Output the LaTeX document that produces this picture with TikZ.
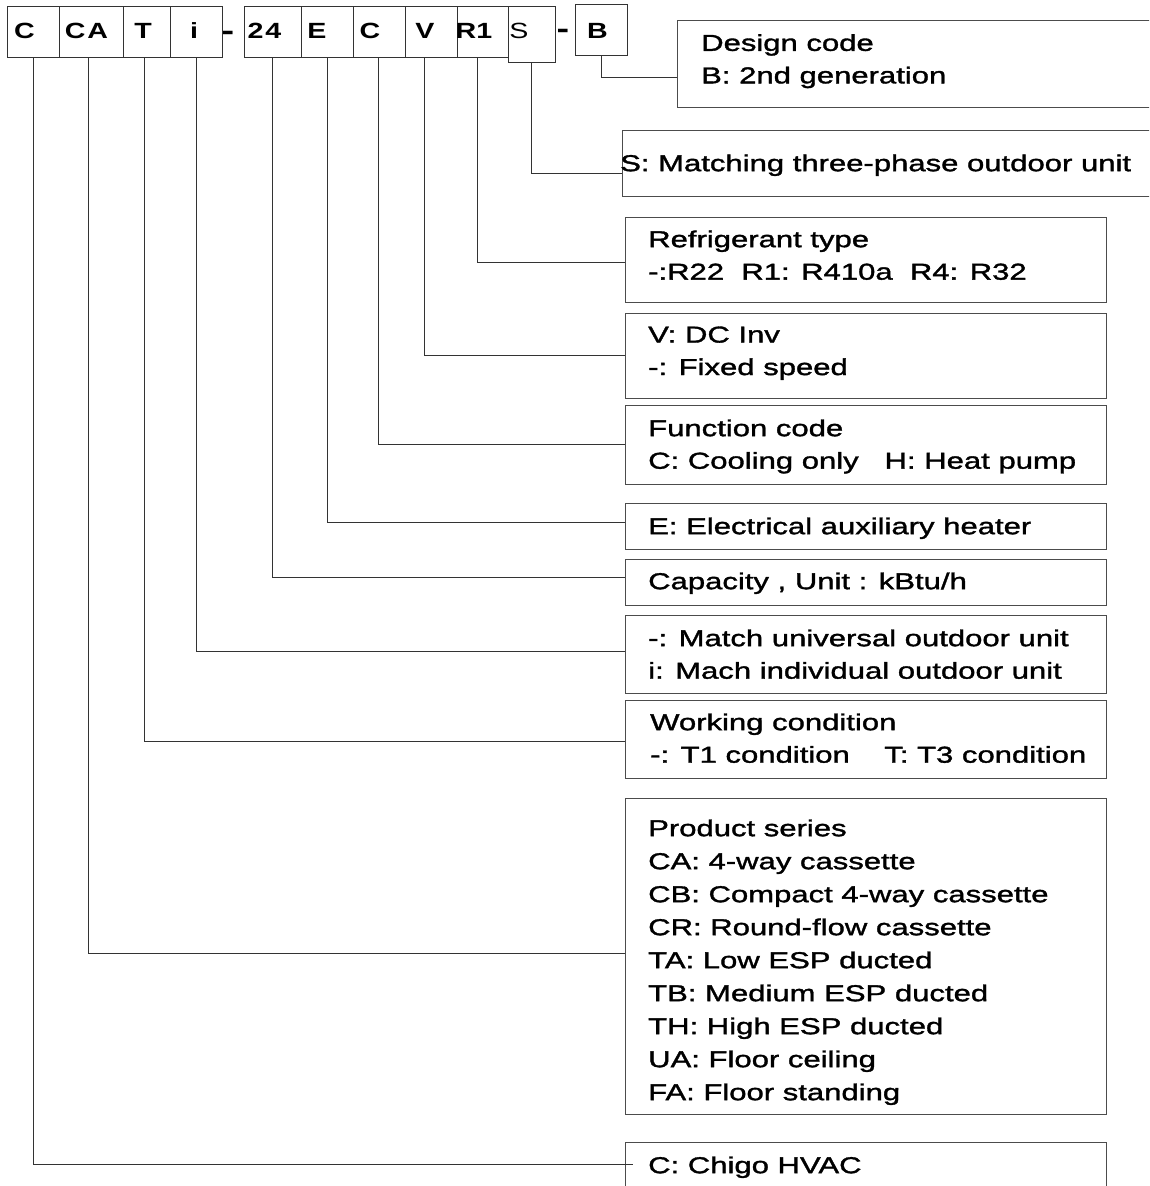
\documentclass[tikz,border=0pt]{standalone}
\usepackage{fontspec}
\newfontfamily\lab[FakeStretch=1.35, FakeBold=1.5]{Liberation Sans}
\newfontfamily\topf[FakeStretch=1.3]{Liberation Sans}
\begin{document}
\begin{tikzpicture}[x=1pt,y=-1pt,
  cell/.style={draw=black!80, line width=1pt, minimum height=51pt, inner sep=0pt},
  box/.style={draw=black!70, line width=1pt, inner sep=0pt, minimum width=481pt},
  code/.style={font=\fontsize{22}{22}\selectfont\topf\bfseries, inner sep=0pt, anchor=base},
  plaincode/.style={font=\fontsize{22}{22}\selectfont\topf, inner sep=0pt, anchor=base},
  hyph/.style={font=\fontsize{29}{29}\selectfont\topf\bfseries, inner sep=0pt, anchor=base},
  lbl/.style={font=\fontsize{23}{32.5}\selectfont\lab, inner sep=0pt, align=left, anchor=north west},
  lblp/.style={font=\fontsize{23}{33}\selectfont\lab, inner sep=0pt, align=left, anchor=north west},
  conn/.style={draw=black!80, line width=1pt}]
\useasboundingbox (0,0) rectangle (1149,1186);
\clip (0,0) rectangle (1149,1186);
\fill[white] (0,0) rectangle (1149,1186);

% top row cells
\node[cell, minimum width=52pt] (cC) at (33,31.5) {};
\node[cell, minimum width=64pt] (cCA) at (91,31.5) {};
\node[cell, minimum width=47pt] (cT) at (146.5,31.5) {};
\node[cell, minimum width=52pt] (ci) at (196,31.5) {};
\node[cell, minimum width=57pt] (c24) at (272.5,31.5) {};
\node[cell, minimum width=52pt] (cE) at (327,31.5) {};
\node[cell, minimum width=52pt] (cF) at (379,31.5) {};
\node[cell, minimum width=52pt] (cV) at (431,31.5) {};
\node[cell, minimum width=51pt] (cR) at (482.5,31.5) {};
\node[cell, minimum width=47pt, minimum height=56pt] (cS) at (531.5,34) {};
\node[cell, minimum width=52pt] (cB) at (601,29.5) {};

% top row texts
\node[code] (tcC) at (24.5,38.5) {C};
\node[code] (tcCA) at (86.5,38.5) {C\hspace{2pt}A};
\node[code] (tcT) at (143,38.5) {T};
\node[code] (tci) at (194,38.5) {i};
\node[hyph] (h1) at (228,40.5) {-};
\node[code] (tc24) at (264.5,38.5) {2\hspace{2pt}4};
\node[code] (tcE) at (317,38.5) {E};
\node[code] (tcF) at (370,38.5) {C};
\node[code] (tcV) at (425,38.5) {V};
\node[code] (tcR) at (474,38.5) {R1};
\node[plaincode] (tcS) at (519,38.5) {S};
\node[hyph] (h2) at (563,38.5) {-};
\node[code] (tcB) at (597.5,38) {B};

% description boxes
\node[box, minimum width=493pt, minimum height=87pt] (dD) at (923.5,63.5) {};
\node[box, minimum width=548pt, minimum height=66pt] (dS) at (896,163) {};
\node[box, minimum height=85pt] (dR) at (865.5,259.5) {};
\node[box, minimum height=85pt] (dV) at (865.5,355.5) {};
\node[box, minimum height=79pt] (dF) at (865.5,444.5) {};
\node[box, minimum height=46pt] (dE) at (865.5,526) {};
\node[box, minimum height=46pt] (dCap) at (865.5,582) {};
\node[box, minimum height=78pt] (dM) at (865.5,654) {};
\node[box, minimum height=78pt] (dW) at (865.5,739) {};
\node[box, minimum height=316pt] (dP) at (865.5,956) {};
\node[box, minimum height=68pt] (dC) at (865.5,1176) {};

% description texts
\node[lbl] (tD) at (701,34) {Design code\\B: 2nd generation};
\node[lbl] (tS) at (620,154.3) {S: Matching three-phase outdoor unit};
\node[lbl] (tR) at (648,230.3) {Refrigerant type\\-:R22~~R1: R410a~~R4: R32};
\node[lbl] (tV) at (648,326.3) {V: DC Inv\\-: Fixed speed};
\node[lbl] (tF) at (648,419.3) {Function code\\C: Cooling only~~~H: Heat pump};
\node[lbl] (tE) at (648,517.3) {E: Electrical auxiliary heater};
\node[lbl] (tCap) at (648,572.3) {Capacity , Unit : kBtu/h};
\node[lbl] (tM) at (648,629.3) {-: Match universal outdoor unit\\i: Mach individual outdoor unit};
\node[lbl] (tW) at (650,713.3) {Working condition\\-: T1 condition~~~~T: T3 condition};
\node[lblp] (tP) at (648,819.3) {Product series\\CA: 4-way cassette\\CB: Compact 4-way cassette\\CR: Round-flow cassette\\TA: Low ESP ducted\\TB: Medium ESP ducted\\TH: High ESP ducted\\UA: Floor ceiling\\FA: Floor standing};
\node[lbl] (tCh) at (648,1156.3) {C: Chigo HVAC};

% connectors
\coordinate (eC) at (633,1164);
\draw[conn] (cC.south) |- (eC);
\draw[conn] ([xshift=-3pt]cCA.south) |- ([yshift=3pt]dP.west);
\draw[conn] ([xshift=-2.5pt]cT.south) |- ([yshift=-2pt]dW.west);
\draw[conn] (ci.south) |- ([yshift=3pt]dM.west);
\draw[conn] (c24.south) |- ([yshift=5pt]dCap.west);
\draw[conn] (cE.south) |- ([yshift=4pt]dE.west);
\draw[conn] ([xshift=-1pt]cF.south) |- (dF.west);
\draw[conn] ([xshift=-7pt]cV.south) |- (dV.west);
\draw[conn] ([xshift=-5.5pt]cR.south) |- ([yshift=-2.5pt]dR.west);
\draw[conn] (cS.south) |- ([yshift=-10pt]dS.west);
\draw[conn] (cB.south) |- ([yshift=-13.5pt]dD.west);
\end{tikzpicture}
\end{document}
